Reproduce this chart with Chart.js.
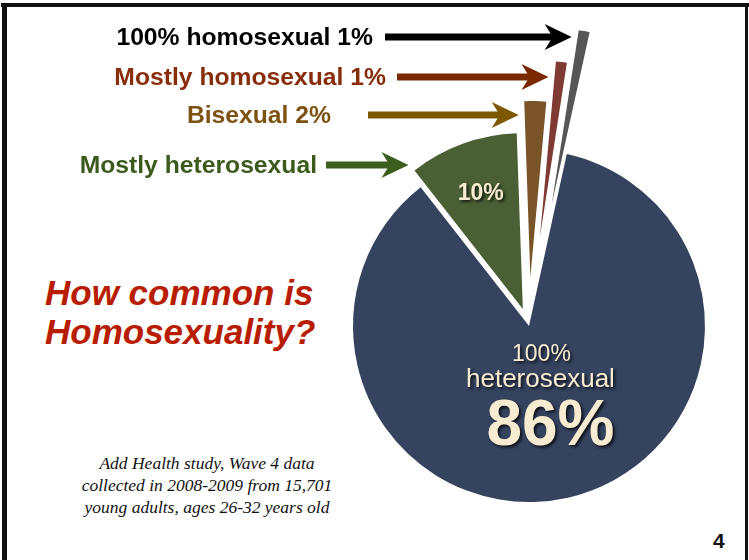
<!DOCTYPE html>
<html>
<head>
<meta charset="utf-8">
<script src="https://cdn.jsdelivr.net/npm/chart.js@4.4.0/dist/chart.umd.min.js"></script>
<style>
  body { margin: 0; background: #fff; }
  #slide { position: relative; width: 749px; height: 560px; overflow: hidden; background: #fff; }
  #chartBox { position: absolute; left: 0; top: 0; width: 749px; height: 560px; }
  .frame { position: absolute; background: #111; }
  .title {
    position: absolute; left: 45px; top: 273px; margin: 0;
    font: italic bold 35px "Liberation Sans", Arial, sans-serif;
    color: #b81d00; line-height: 39px;
  }
  .note {
    position: absolute; left: 57px; top: 452px; width: 300px; text-align: center;
    font: italic 17.5px "Liberation Serif", "Times New Roman", serif;
    color: #111; line-height: 22px;
  }
  .page { position: absolute; left: 713px; top: 529px; font: bold 21px "Liberation Sans", Arial, sans-serif; color: #111; }
</style>
</head>
<body>
<div id="slide">
  <div class="frame" style="left:1px; top:3px; width:748px; height:4px;"></div>
  <div class="frame" style="left:2px; top:3px; width:5px; height:557px;"></div>
  <div class="frame" style="left:745px; top:3px; width:3px; height:557px;"></div>
  <div class="title">How common is<br>Homosexuality?</div>
  <div class="note">Add Health study, Wave 4 data<br>collected in 2008-2009 from 15,701<br>young adults, ages 26-32 years old</div>
  <div class="page">4</div>
  <div id="chartBox"><canvas id="pieChart"></canvas></div>
</div>

<script>
// Data
const categories = ['Mostly heterosexual', 'Bisexual', 'Mostly homosexual', '100% homosexual', '100% heterosexual'];
const shares = [10, 2, 1, 1, 86];

// Styling per slice (same order as categories)
const sliceColors = ['#4a6034', '#7a5429', '#7e3a33', '#565656', '#35435f'];
const slicePull = [18, 49, 90, 124, 0]; // how far each slice is pulled out, px

// Arrow callouts: slice index, text, colour, arrow y, right end of text, arrow start x
const callouts = [
  { idx: 3, text: '100% homosexual 1%', color: '#000000', arrow: '#000000', y: 37, textRight: 373, arrowStart: 385 },
  { idx: 2, text: 'Mostly homosexual 1%', color: '#872d0a', arrow: '#7a2800', y: 77, textRight: 386, arrowStart: 397 },
  { idx: 1, text: 'Bisexual 2%', color: '#7d5312', arrow: '#7c5800', y: 115, textRight: 331, arrowStart: 368 },
  { idx: 0, text: 'Mostly heterosexual', color: '#3d5a1d', arrow: '#3e5e1e', y: 165, textRight: 317, arrowStart: 326 }
];

const CREAM = '#f7ebd2';

function arcCenter(arc, i) {
  const mid = (arc.startAngle + arc.endAngle) / 2;
  const off = slicePull[i];
  return { x: arc.x + Math.cos(mid) * off, y: arc.y + Math.sin(mid) * off };
}

function drawArrow(ctx, x0, x1, y, color) {
  ctx.save();
  ctx.fillStyle = color;
  ctx.fillRect(x0, y - 3.5, x1 - x0 - 18, 7);
  ctx.beginPath();
  ctx.moveTo(x1, y);
  ctx.lineTo(x1 - 27, y - 13);
  ctx.lineTo(x1 - 19, y);
  ctx.lineTo(x1 - 27, y + 13);
  ctx.closePath();
  ctx.fill();
  ctx.restore();
}

function shadowText(ctx, text, x, y, font) {
  ctx.save();
  ctx.font = font;
  ctx.textAlign = 'center';
  ctx.textBaseline = 'middle';
  ctx.shadowColor = 'rgba(0,0,0,0.75)';
  ctx.shadowOffsetX = 2;
  ctx.shadowOffsetY = 2;
  ctx.shadowBlur = 3;
  ctx.fillStyle = CREAM;
  ctx.fillText(text, x, y);
  ctx.restore();
}

// Chart.js' own offset also shrinks thin slices, so pull them out by translating each arc
const pullSlices = {
  id: 'pullSlices',
  beforeDatasetsDraw(chart) {
    chart.getDatasetMeta(0).data.forEach((arc, i) => {
      if (arc._pulled) return;
      const draw = arc.draw;
      arc.draw = function(c, area) {
        const mid = (this.startAngle + this.endAngle) / 2;
        c.save();
        c.translate(Math.cos(mid) * slicePull[i], Math.sin(mid) * slicePull[i]);
        draw.call(this, c, area);
        c.restore();
      };
      arc._pulled = true;
    });
  }
};

const annotations = {
  id: 'annotations',
  afterDatasetsDraw(chart) {
    const ctx = chart.ctx;
    const arcs = chart.getDatasetMeta(0).data;

    // callouts with arrows pointing at slice edges
    callouts.forEach(c => {
      const arc = arcs[c.idx];
      const cen = arcCenter(arc, c.idx);
      const R = arc.outerRadius;
      const a = arc.startAngle;
      let t = (cen.y - c.y) / -Math.sin(a);
      if (t > R || t < 0) t = R;
      const edgeX = cen.x + Math.cos(a) * t;
      drawArrow(ctx, c.arrowStart, edgeX - 6, c.y, c.arrow);
      ctx.save();
      ctx.font = 'bold 24.7px "Liberation Sans", Arial, sans-serif';
      ctx.fillStyle = c.color;
      ctx.textAlign = 'right';
      ctx.textBaseline = 'middle';
      ctx.fillText(c.text, c.textRight, c.y + 1);
      ctx.restore();
    });

    // value label inside the 10% slice
    const g = arcs[0];
    const gc = arcCenter(g, 0);
    const gm = (g.startAngle + g.endAngle) / 2;
    shadowText(ctx, shares[0] + '%', gc.x + Math.cos(gm) * g.outerRadius * 0.7,
      gc.y + Math.sin(gm) * g.outerRadius * 0.7, 'bold 23px "Liberation Sans", Arial, sans-serif');

    // label inside the big slice
    const n = arcs[4];
    const nc = arcCenter(n, 4);
    const nm = (n.startAngle + n.endAngle) / 2;
    const ax = nc.x + Math.cos(nm) * n.outerRadius * 0.37;
    const ay = nc.y + Math.sin(nm) * n.outerRadius * 0.37;
    shadowText(ctx, '100%', ax - 2, ay - 35, '23px "Liberation Sans", Arial, sans-serif');
    shadowText(ctx, 'heterosexual', ax - 3, ay - 10, '26px "Liberation Sans", Arial, sans-serif');
    shadowText(ctx, shares[4] + '%', ax + 7, ay + 38, 'bold 64px "Liberation Sans", Arial, sans-serif');
  }
};

const ctx = document.getElementById('pieChart').getContext('2d');
new Chart(ctx, {
  type: 'pie',
  data: {
    labels: categories,
    datasets: [{
      data: shares,
      backgroundColor: sliceColors,
      borderWidth: 0,
      clip: false
    }]
  },
  options: {
    responsive: true,
    maintainAspectRatio: false,
    animation: false,
    rotation: -38,
    radius: 176,
    layout: { padding: { left: 310, right: 1, top: 92, bottom: 0 } },
    plugins: {
      legend: { display: false },
      tooltip: { enabled: false }
    }
  },
  plugins: [pullSlices, annotations]
});
</script>
</body>
</html>
